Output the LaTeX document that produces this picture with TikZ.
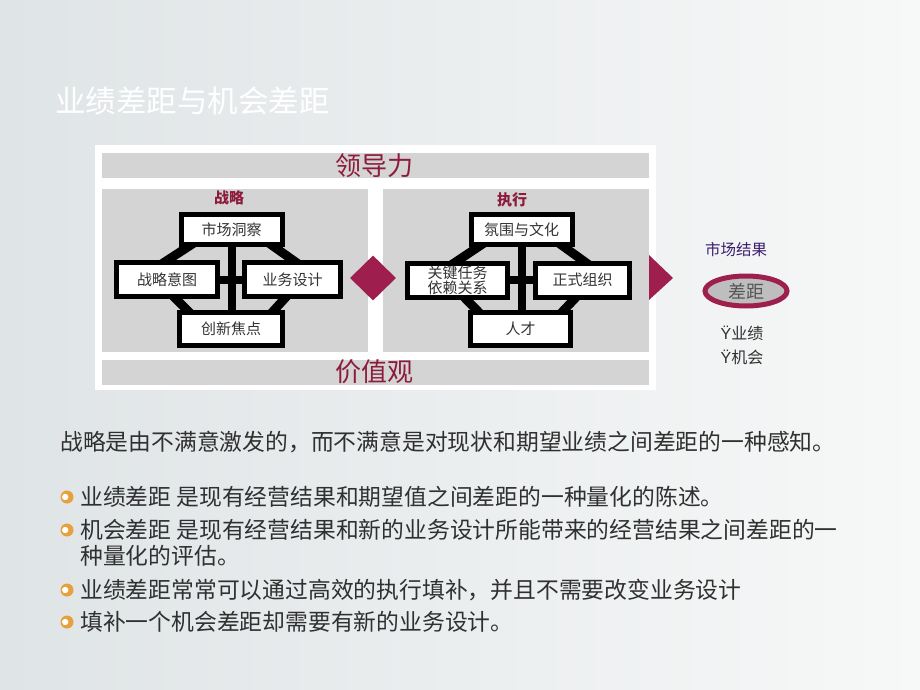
\documentclass[tikz,border=0pt]{standalone}
\usepackage{fontspec}
\setmainfont{Noto Sans CJK SC}
\newfontfamily\latinfont{Liberation Sans}
\usepackage{tikz}
\usetikzlibrary{calc}
\usetikzlibrary{shapes.geometric}
\definecolor{bgleft}{RGB}{223,228,230}
\definecolor{bgright}{RGB}{247,248,248}
\definecolor{panelgray}{RGB}{212,212,212}
\definecolor{crimson}{RGB}{158,30,78}
\definecolor{headred}{RGB}{140,28,60}
\definecolor{resultpurple}{RGB}{60,30,110}
\definecolor{boxtext}{RGB}{51,51,51}
\definecolor{bodytext}{RGB}{48,48,48}
\definecolor{bulletorange}{RGB}{232,160,60}
\pgfdeclarelayer{back}
\pgfdeclarelayer{mid}
\pgfsetlayers{back,mid,main}
\tikzset{
    blok/.style={draw=black, line width=5pt, fill=white, minimum width=101pt, minimum height=30pt,
        inner sep=0pt, text=boxtext, font=\fontsize{15pt}{15pt}\selectfont},
    spine/.style={line width=8pt, black},
    link band/.style={line width=9pt, black},
    headline/.style={text=headred, inner sep=0pt, font=\fontsize{26pt}{26pt}\selectfont},
    sub/.style={text=headred, inner sep=0pt, font=\fontsize{15pt}{15pt}\selectfont\bfseries},
    para/.style={anchor=west, inner sep=0pt, text=bodytext, align=left, font=\fontsize{22.8pt}{26pt}\selectfont},
    bul/.style={circle, fill=bulletorange, minimum size=13pt, inner sep=0pt,
        path picture={\fill[white] ([xshift=-1.8pt]path picture bounding box.center) circle (3.2pt);}}
}

\begin{document}
\begin{tikzpicture}[x=1pt,y=-1pt]
    \useasboundingbox (0,0) rectangle (920,690);
    \begin{pgfonlayer}{back}
        \shade[left color=bgleft, right color=bgright] (0,0) rectangle (920,690);
        \fill[white] (95,145) rectangle (656,390);
        \fill[panelgray] (102,153) rectangle (649,178);
        \fill[panelgray] (102,360) rectangle (649,385);
        \fill[panelgray] (102,189) rectangle (368,352);
        \fill[panelgray] (383,189) rectangle (649,352);
    \end{pgfonlayer}

    \node[anchor=west, inner sep=0pt, text=white, font=\fontsize{30.5pt}{31pt}\selectfont] (title) at (55,101) {业绩差距与机会差距};

    \node[headline] (lead) at (374,166) {领导力};
    \node[headline] (values) at (374,372) {价值观};
    \node[sub] (strat) at (229,198) {战略};
    \node[sub] (exec) at (512,200) {执行};

    % 战略
    \node[blok] (s1) at (231.5,229.5) {市场洞察};
    \node[blok, minimum height=34pt] (s2) at (167,279.5) {战略意图};
    \node[blok, minimum height=34pt, minimum width=96pt] (s3) at (292.5,279.5) {业务设计};
    \node[blok, minimum height=33pt, minimum width=103pt] (s4) at (231,329) {创新焦点};
    % 执行
    \node[blok] (e1) at (521.5,229.5) {氛围与文化};
    \node[blok, minimum height=34pt, minimum width=100pt, align=center, font=\fontsize{15pt}{13pt}\selectfont] (e2) at (457.5,280) {关键任务\\依赖关系};
    \node[blok, minimum height=34pt, minimum width=94pt] (e3) at (582.5,280) {正式组织};
    \node[blok, minimum height=33pt, minimum width=100pt] (e4) at (520.5,329) {人才};

    \begin{pgfonlayer}{mid}
        \foreach \p in {s,e}{
            \draw[spine] (\p1.south) -- (\p1.south |- \p4.north);
            \draw[spine] (\p2.east) -- (\p3.west);
            \draw[link band] ($(\p1.south)+(-33,-7)$) -- ($(\p2.north)+(-11.5,8)$);
            \draw[link band] ($(\p1.south)+(33,-7)$) -- ($(\p3.north)+(11.5,8)$);
            \draw[link band] ($(\p2.south)+(0.6,-8.4)$) -- ($(\p4.north)+(-35.6,8.4)$);
            \draw[link band] ($(\p3.south)+(-0.6,-8.4)$) -- ($(\p4.north)+(35.6,8.4)$);
        }
    \end{pgfonlayer}

    \node[diamond, fill=crimson, minimum width=46pt, minimum height=45pt, inner sep=0pt] (gate) at (373,278) {};
    \fill[crimson] (649,255) -- (673,278) -- (649,300) -- cycle;

    % 市场结果
    \node[text=resultpurple, inner sep=0pt, font=\fontsize{15.5pt}{16pt}\selectfont] (market) at (736,250) {市场结果};
    \node[ellipse, draw=crimson, line width=5pt, fill={rgb,255:red,190;green,190;blue,190}, minimum width=82pt, minimum height=30pt,
        inner sep=0pt, text={rgb,255:red,85;green,85;blue,85}, font=\fontsize{18pt}{18pt}\selectfont] (gap) at (746,291) {差距};
    \node[text=bodytext, inner sep=0pt, font=\fontsize{16pt}{16pt}\selectfont] (perf) at (742,333) {{\latinfont Ÿ}业绩};
    \node[text=bodytext, inner sep=0pt, font=\fontsize{16pt}{16pt}\selectfont] (opp) at (742,357) {{\latinfont Ÿ}机会};

    \node[para] (intro) at (60,442) {战略是由不满意激发的，而不满意是对现状和期望业绩之间差距的一种感知。};

    \node[bul] (b1) at (67,497) {};
    \node[para] (t1) at (80,497) {业绩差距 是现有经营结果和期望值之间差距的一种量化的陈述。};
    \node[bul] (b2) at (67,530) {};
    \node[para] (t2) at (80,543) {机会差距 是现有经营结果和新的业务设计所能带来的经营结果之间差距的一\\种量化的评估。};
    \node[bul] (b3) at (67,590) {};
    \node[para] (t3) at (80,590) {业绩差距常常可以通过高效的执行填补，并且不需要改变业务设计};
    \node[bul] (b4) at (67,622) {};
    \node[para] (t4) at (80,622) {填补一个机会差距却需要有新的业务设计。};
\end{tikzpicture}
\end{document}
